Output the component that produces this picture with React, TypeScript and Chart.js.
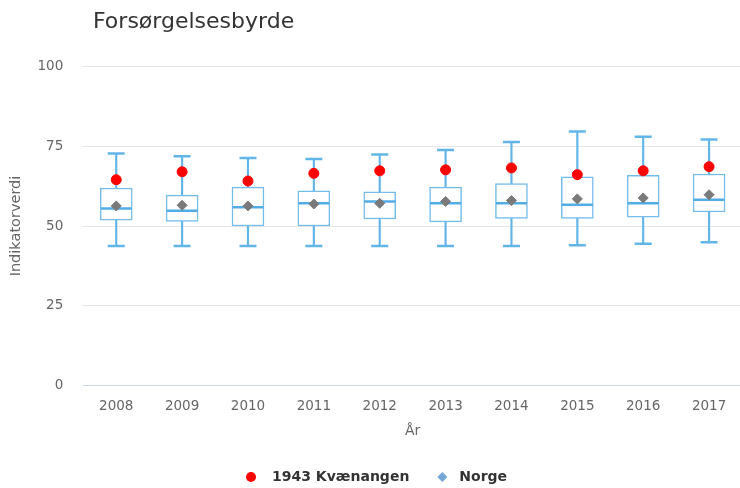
import React, { useEffect, useRef } from "react";
import { Chart, registerables } from "chart.js";

Chart.register(...registerables);

const titleText = "Forsørgelsesbyrde";
const yAxisTitle = "Indikatorverdi";
const xAxisTitle = "År";
const seriesKvaenangen = "1943 Kvænangen";
const seriesNorge = "Norge";

const years = ["2008", "2009", "2010", "2011", "2012", "2013", "2014", "2015", "2016", "2017"];
const whiskerMin = [43.7, 43.7, 43.7, 43.7, 43.7, 43.7, 43.7, 44.0, 44.4, 44.9];
const q1 = [51.8, 51.4, 50.0, 50.0, 52.2, 51.3, 52.4, 52.4, 52.8, 54.4];
const median = [55.5, 54.8, 55.9, 57.1, 57.7, 57.1, 57.1, 56.7, 57.1, 58.2];
const q3 = [61.9, 59.7, 62.2, 61.0, 60.7, 62.2, 63.3, 65.4, 65.9, 66.3];
const whiskerMax = [72.7, 71.9, 71.3, 71.0, 72.4, 73.8, 76.3, 79.6, 78.0, 77.1];
const kvaenangen = [64.5, 67.0, 64.1, 66.5, 67.3, 67.6, 68.2, 66.1, 67.3, 68.6];
const norge = [56.3, 56.5, 56.3, 56.9, 57.1, 57.7, 58.0, 58.5, 58.8, 59.8];
const yTicks = [0, 25, 50, 75, 100];

const FONT = "DejaVu Sans";
const BOX_COLOR = "#74bdeb";
const WHISKER_COLOR = "#62b5e9";
const MEDIAN_COLOR = "#52ace6";
const RED = "#ff0000";
const GREY = "#7a7a7a";
const LEGEND_DIAMOND = "#74a6d6";

const titlePlugin = {
  id: "customTitle",
  afterDraw(chart: any) {
    const ctx = chart.ctx;
    ctx.save();
    ctx.font = `22px "${FONT}"`;
    ctx.fillStyle = "#333333";
    ctx.textAlign = "left";
    ctx.textBaseline = "alphabetic";
    ctx.fillText(titleText, 93, 28);
    ctx.restore();
  },
};

const legendPlugin = {
  id: "customLegend",
  afterDraw(chart: any) {
    const ctx = chart.ctx;
    ctx.save();
    ctx.font = `bold 14px "${FONT}"`;
    ctx.textBaseline = "middle";
    ctx.textAlign = "left";
    const y = 477;
    const startX = chart.width / 2 - 129;
    const w1 = ctx.measureText(seriesKvaenangen).width;
    ctx.beginPath();
    ctx.arc(startX, y, 5, 0, Math.PI * 2);
    ctx.fillStyle = RED;
    ctx.fill();
    ctx.fillStyle = "#333333";
    ctx.fillText(seriesKvaenangen, startX + 21, y);
    const dx = startX + 21 + w1 + 33;
    ctx.beginPath();
    ctx.moveTo(dx - 5, y);
    ctx.lineTo(dx, y - 5);
    ctx.lineTo(dx + 5, y);
    ctx.lineTo(dx, y + 5);
    ctx.closePath();
    ctx.fillStyle = LEGEND_DIAMOND;
    ctx.fill();
    ctx.fillStyle = "#333333";
    ctx.fillText(seriesNorge, dx + 17, y);
    ctx.restore();
  },
};

export default function App() {
  const canvasRef = useRef<HTMLCanvasElement | null>(null);

  useEffect(() => {
    if (!canvasRef.current) return;
    Chart.defaults.font.family = FONT;
    const chart = new Chart(canvasRef.current, {
      type: "bar",
      data: {
        labels: years,
        datasets: [
          {
            type: "line",
            label: seriesKvaenangen,
            data: kvaenangen,
            showLine: false,
            pointStyle: "circle",
            pointRadius: 5,
            pointBorderWidth: 1,
            pointBackgroundColor: RED,
            pointBorderColor: RED,
            order: 0,
          } as any,
          {
            type: "line",
            label: seriesNorge,
            data: norge,
            showLine: false,
            pointStyle: "rectRot",
            pointRadius: 5,
            pointBorderWidth: 1,
            pointBackgroundColor: GREY,
            pointBorderColor: GREY,
            order: 1,
          } as any,
          {
            type: "line",
            label: "Median",
            data: median,
            showLine: false,
            pointStyle: "line",
            pointRadius: 15.5,
            pointBorderWidth: 2.5,
            pointBorderColor: MEDIAN_COLOR,
            order: 2,
          } as any,
          {
            type: "bar",
            label: "Box",
            data: years.map((_, i) => [q1[i], q3[i]]),
            backgroundColor: "#ffffff",
            borderColor: BOX_COLOR,
            borderWidth: 1.5,
            borderSkipped: false,
            barThickness: 32,
            grouped: false,
            order: 3,
          } as any,
          {
            type: "line",
            label: "Upper whisker",
            data: whiskerMax,
            showLine: false,
            pointStyle: "line",
            pointRadius: 8.5,
            pointBorderWidth: 2.5,
            pointBorderColor: WHISKER_COLOR,
            order: 4,
          } as any,
          {
            type: "line",
            label: "Lower whisker",
            data: whiskerMin,
            showLine: false,
            pointStyle: "line",
            pointRadius: 8.5,
            pointBorderWidth: 2.5,
            pointBorderColor: WHISKER_COLOR,
            order: 4,
          } as any,
          {
            type: "bar",
            label: "Whisker",
            data: years.map((_, i) => [whiskerMin[i], whiskerMax[i]]),
            backgroundColor: WHISKER_COLOR,
            borderWidth: 0,
            barThickness: 1.5,
            grouped: false,
            order: 5,
          } as any,
        ],
      },
      options: {
        responsive: false,
        animation: false,
        devicePixelRatio: 1,
        layout: { padding: { top: 66.5, right: 11, left: 0, bottom: 48 } },
        plugins: {
          legend: { display: false },
          title: { display: false },
          tooltip: { enabled: false },
        },
        scales: {
          x: {
            type: "category",
            offset: true,
            grid: { display: false },
            border: { display: true, color: "#ccd6eb", width: 1 },
            ticks: { color: "#666666", font: { size: 13.5 }, padding: 5, maxRotation: 0 },
            title: {
              display: true,
              text: xAxisTitle,
              color: "#666666",
              font: { size: 14 },
              padding: 0,
            },
            afterFit: (scale: any) => {
              scale.height = 54.5;
            },
          },
          y: {
            type: "linear",
            min: 0,
            max: 100,
            afterBuildTicks: (scale: any) => {
              scale.ticks = yTicks.map((v) => ({ value: v }));
            },
            grid: {
              color: (c: any) => (c.tick && c.tick.value === 0 ? "rgba(0,0,0,0)" : "#e6e6e6"),
              lineWidth: 1,
              drawTicks: false,
            },
            border: { display: false },
            ticks: { color: "#666666", font: { size: 13.5 }, padding: 20 },
            title: {
              display: true,
              text: yAxisTitle,
              color: "#666666",
              font: { size: 14.5 },
              padding: 8,
            },
            afterFit: (scale: any) => {
              scale.width = 83.3;
            },
          },
        },
      } as any,
      plugins: [titlePlugin, legendPlugin],
    });
    return () => chart.destroy();
  }, []);

  return (
    <div
      style={{
        position: "absolute",
        left: 0,
        top: 0,
        width: 740,
        height: 488,
        overflow: "hidden",
        background: "#ffffff",
      }}
    >
      <canvas ref={canvasRef} width={760} height={488} style={{ display: "block" }} />
    </div>
  );
}
